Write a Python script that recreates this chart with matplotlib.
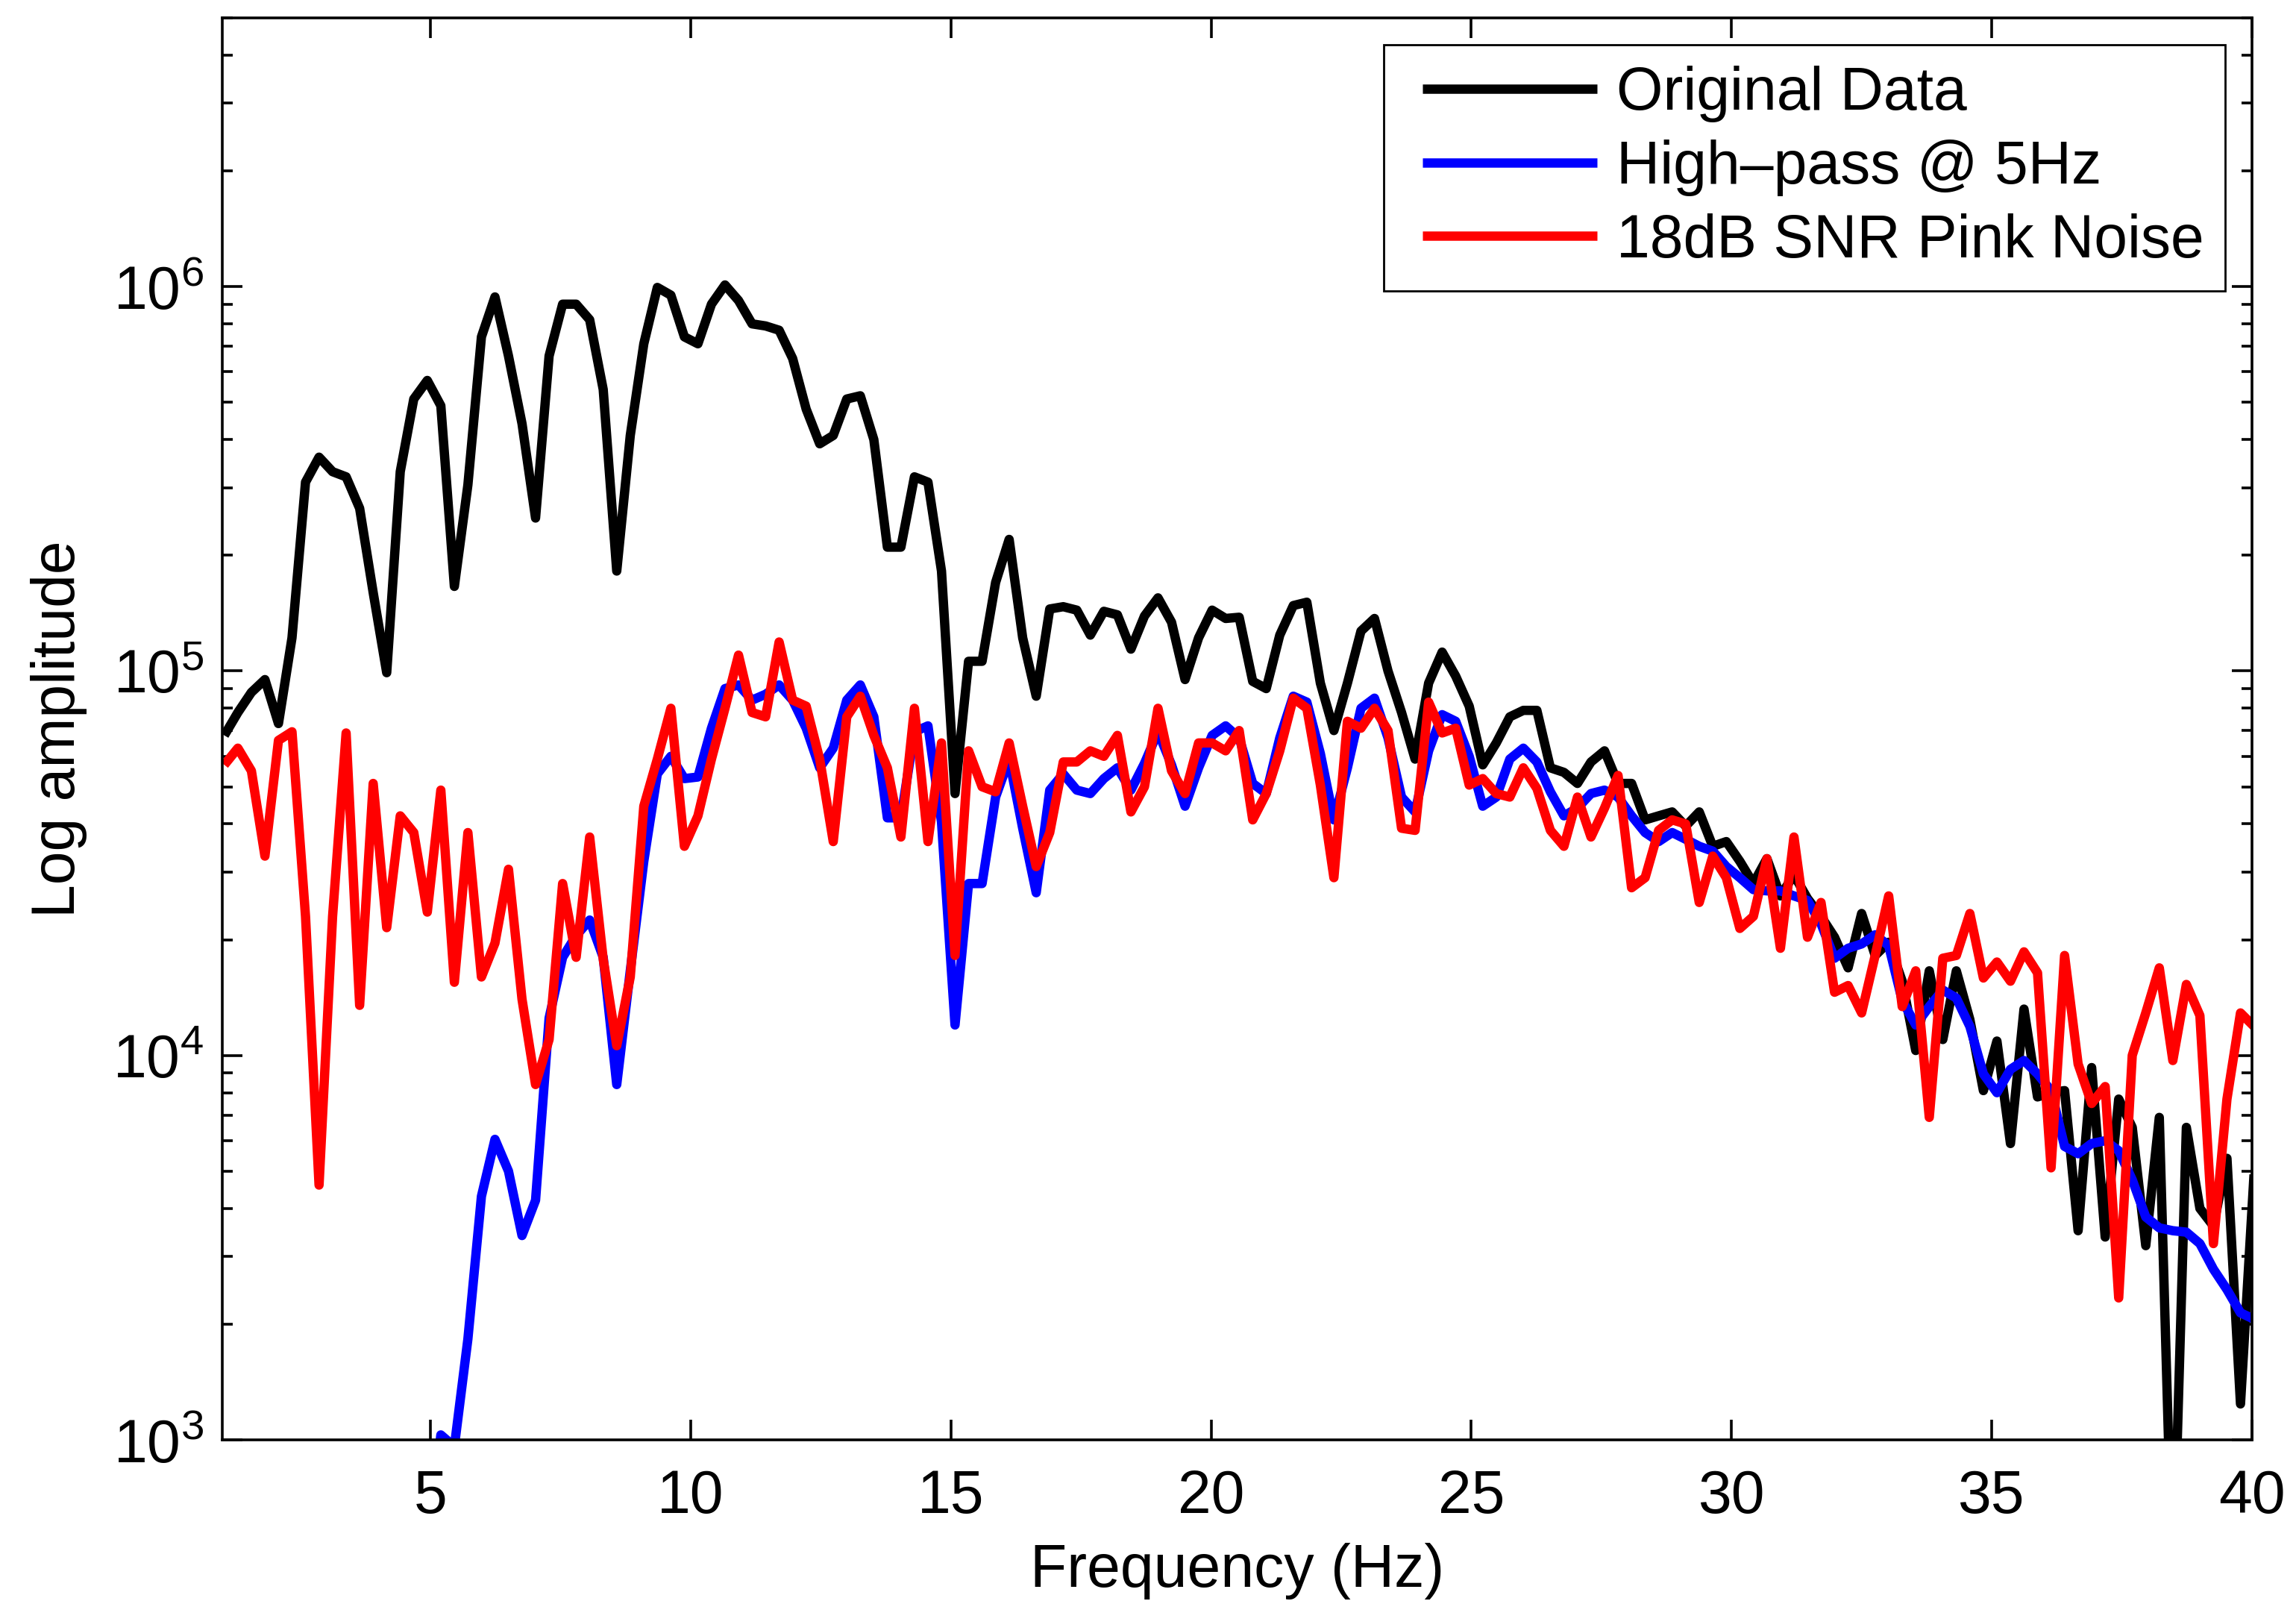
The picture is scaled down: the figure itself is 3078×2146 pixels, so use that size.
import numpy as np
import matplotlib
matplotlib.use("Agg")
import matplotlib.pyplot as plt
from matplotlib.ticker import LogLocator, NullFormatter, FixedLocator
from matplotlib.legend_handler import HandlerLine2D

plt.rcParams['font.family'] = ['Liberation Sans', 'DejaVu Sans']
plt.rcParams['mathtext.fontset'] = 'custom'
plt.rcParams['mathtext.rm'] = 'Liberation Sans'
plt.rcParams['mathtext.it'] = 'Liberation Sans:italic'
plt.rcParams['mathtext.bf'] = 'Liberation Sans:bold'

# Spectrum bins (Hz): bins 4..154 of a 0.26 Hz resolution FFT
FREQ_STEP = 0.26
freq = FREQ_STEP * np.arange(4, 155)

original = [
    6.8e4, 7.8e4, 8.8e4, 9.5e4, 7.3e4, 1.22e5, 3.1e5, 3.6e5, 3.3e5, 3.2e5,
    2.65e5, 1.6e5, 9.9e4, 3.3e5, 5.1e5, 5.7e5, 4.9e5, 1.66e5, 3.05e5, 7.4e5,
    9.4e5, 6.6e5, 4.4e5, 2.5e5, 6.6e5, 9.0e5, 9.0e5, 8.2e5, 5.4e5, 1.82e5,
    4.1e5, 7.1e5, 9.95e5, 9.5e5, 7.4e5, 7.1e5, 9.0e5, 1.01e6, 9.2e5, 8.0e5,
    7.9e5, 7.7e5, 6.5e5, 4.8e5, 3.9e5, 4.1e5, 5.1e5, 5.2e5, 4.0e5, 2.1e5,
    2.1e5, 3.2e5, 3.1e5, 1.82e5, 4.8e4, 1.06e5, 1.06e5, 1.7e5, 2.2e5, 1.22e5,
    8.6e4, 1.45e5, 1.47e5, 1.44e5, 1.24e5, 1.43e5, 1.4e5, 1.14e5, 1.39e5, 1.55e5,
    1.34e5, 9.5e4, 1.22e5, 1.44e5, 1.37e5, 1.38e5, 9.4e4, 9.0e4, 1.24e5, 1.48e5,
    1.51e5, 9.3e4, 7.0e4, 9.3e4, 1.27e5, 1.37e5, 1.0e5, 7.8e4, 5.9e4, 9.3e4,
    1.12e5, 9.7e4, 8.1e4, 5.7e4, 6.5e4, 7.6e4, 7.9e4, 7.9e4, 5.6e4, 5.45e4,
    5.1e4, 5.8e4, 6.2e4, 5.1e4, 5.1e4, 4.1e4, 4.2e4, 4.3e4, 3.95e4, 4.3e4,
    3.5e4, 3.6e4, 3.2e4, 2.8e4, 3.25e4, 2.6e4, 2.95e4, 2.56e4, 2.3e4, 2.03e4,
    1.69e4, 2.34e4, 1.82e4, 1.97e4, 1.56e4, 1.03e4, 1.66e4, 1.1e4, 1.66e4, 1.24e4,
    8.1e3, 1.09e4, 5.9e3, 1.32e4, 7.8e3, 8.0e3, 8.1e3, 3.5e3, 9.3e3, 3.37e3,
    7.7e3, 6.5e3, 3.2e3, 6.9e3, 4.0e2, 6.5e3, 4.0e3, 3.6e3, 5.4e3, 1.24e3,
    4.9e3,
]

highpass = [
    np.nan, np.nan, np.nan, np.nan, np.nan, np.nan, np.nan, np.nan, np.nan, np.nan,
    np.nan, np.nan, np.nan, np.nan, np.nan, 5.0e2, 1.03e3, 9.6e2, 1.83e3, 4.3e3,
    6.05e3, 5.0e3, 3.4e3, 4.2e3, 1.25e4, 1.8e4, 2.05e4, 2.25e4, 1.8e4, 8.4e3,
    1.66e4, 3.2e4, 5.4e4, 6.0e4, 5.25e4, 5.3e4, 7.1e4, 9.0e4, 9.2e4, 8.4e4,
    8.7e4, 9.2e4, 8.4e4, 7.1e4, 5.6e4, 6.3e4, 8.4e4, 9.2e4, 7.6e4, 4.15e4,
    4.15e4, 6.95e4, 7.2e4, 4.05e4, 1.2e4, 2.8e4, 2.8e4, 4.7e4, 5.9e4, 3.9e4,
    2.65e4, 4.9e4, 5.4e4, 4.9e4, 4.8e4, 5.25e4, 5.6e4, 4.9e4, 5.75e4, 6.95e4,
    5.7e4, 4.45e4, 5.6e4, 6.8e4, 7.2e4, 6.7e4, 5.1e4, 4.8e4, 6.7e4, 8.6e4,
    8.3e4, 6.1e4, 4.1e4, 5.6e4, 8.0e4, 8.5e4, 6.7e4, 4.7e4, 4.3e4, 6.2e4,
    7.7e4, 7.4e4, 6.0e4, 4.45e4, 4.7e4, 5.9e4, 6.3e4, 5.8e4, 4.85e4, 4.2e4,
    4.4e4, 4.8e4, 4.9e4, 4.7e4, 4.2e4, 3.8e4, 3.6e4, 3.8e4, 3.65e4, 3.5e4,
    3.4e4, 3.1e4, 2.9e4, 2.7e4, 2.68e4, 2.68e4, 2.6e4, 2.53e4, 2.2e4, 1.79e4,
    1.9e4, 1.95e4, 2.06e4, 1.93e4, 1.39e4, 1.2e4, 1.34e4, 1.48e4, 1.41e4, 1.19e4,
    8.95e3, 8.0e3, 9.2e3, 9.7e3, 8.95e3, 8.1e3, 5.8e3, 5.55e3, 5.9e3, 6.0e3,
    5.65e3, 4.75e3, 3.8e3, 3.56e3, 3.5e3, 3.47e3, 3.24e3, 2.78e3, 2.46e3, 2.14e3,
    2.06e3,
]

pink_noise = [
    5.7e4, 6.3e4, 5.5e4, 3.3e4, 6.6e4, 6.95e4, 2.3e4, 4.6e3, 2.3e4, 6.9e4,
    1.35e4, 5.1e4, 2.15e4, 4.2e4, 3.8e4, 2.36e4, 4.9e4, 1.55e4, 3.8e4, 1.6e4,
    1.96e4, 3.05e4, 1.4e4, 8.4e3, 1.1e4, 2.8e4, 1.8e4, 3.7e4, 1.78e4, 1.06e4,
    1.6e4, 4.45e4, 5.9e4, 8.0e4, 3.5e4, 4.2e4, 5.9e4, 8.0e4, 1.1e5, 7.8e4,
    7.6e4, 1.19e5, 8.4e4, 8.1e4, 5.9e4, 3.6e4, 7.6e4, 8.6e4, 6.8e4, 5.6e4,
    3.7e4, 8.0e4, 3.6e4, 6.5e4, 1.82e4, 6.2e4, 5.0e4, 4.85e4, 6.5e4, 4.45e4,
    3.1e4, 3.8e4, 5.8e4, 5.8e4, 6.2e4, 6.0e4, 6.8e4, 4.3e4, 5.0e4, 8.0e4,
    5.5e4, 4.8e4, 6.5e4, 6.5e4, 6.2e4, 7.0e4, 4.1e4, 4.8e4, 6.2e4, 8.5e4,
    8.0e4, 5.05e4, 2.9e4, 7.4e4, 7.1e4, 8.0e4, 7.0e4, 3.9e4, 3.85e4, 8.3e4,
    6.9e4, 7.1e4, 5.05e4, 5.25e4, 4.8e4, 4.7e4, 5.6e4, 4.95e4, 3.85e4, 3.5e4,
    4.7e4, 3.7e4, 4.4e4, 5.35e4, 2.73e4, 2.9e4, 3.85e4, 4.1e4, 4.0e4, 2.5e4,
    3.3e4, 2.9e4, 2.14e4, 2.3e4, 3.25e4, 1.9e4, 3.7e4, 2.03e4, 2.5e4, 1.46e4,
    1.52e4, 1.29e4, 1.82e4, 2.6e4, 1.34e4, 1.66e4, 6.9e3, 1.79e4, 1.82e4, 2.34e4,
    1.59e4, 1.75e4, 1.56e4, 1.86e4, 1.64e4, 5.1e3, 1.82e4, 9.5e3, 7.5e3, 8.3e3,
    2.34e3, 1.0e4, 1.29e4, 1.69e4, 9.7e3, 1.53e4, 1.27e4, 3.24e3, 7.7e3, 1.29e4,
    1.19e4,
]

series_labels = ['Original Data', 'High\u2013pass @ 5Hz', '18dB SNR Pink Noise']
series_colors = ['#000000', '#0000FF', '#FF0000']
x_ticks = [5, 10, 15, 20, 25, 30, 35, 40]

FS = 29


class InsetLineHandler(HandlerLine2D):
    """Legend line that starts a little inside its handle box."""

    def __init__(self, inset=0.3, **kw):
        super().__init__(**kw)
        self._inset = inset

    def get_xdata(self, legend, xdescent, ydescent, width, height, fontsize):
        x = np.array([-xdescent + self._inset * fontsize, -xdescent + width])
        return x, x


fig = plt.figure(figsize=(3078 / 200, 2146 / 200), dpi=200)
ax = fig.add_axes([0.0968, 0.10065, 0.88401, 0.88817])

lines = []
for values, label, color in zip([original, highpass, pink_noise], series_labels, series_colors):
    ln, = ax.plot(freq, values, color=color, lw=4.5, label=label,
                  solid_joinstyle='round', solid_capstyle='butt')
    lines.append(ln)

ax.set_yscale('log')
ax.set_xlim(1, 40)
ax.set_ylim(1e3, 5e6)
ax.xaxis.set_major_locator(FixedLocator(x_ticks))
ax.yaxis.set_major_locator(LogLocator(base=10, numticks=20))
ax.yaxis.set_minor_locator(LogLocator(base=10, subs=np.arange(2, 10), numticks=20))
ax.yaxis.set_minor_formatter(NullFormatter())

ax.tick_params(which='both', direction='in', top=True, right=True,
               width=1.3, labelsize=FS, color='k')
ax.tick_params(which='major', length=9.7)
ax.tick_params(which='minor', length=5)
ax.tick_params(axis='x', pad=14)
ax.tick_params(axis='y', pad=9)
for s in ax.spines.values():
    s.set_linewidth(1.3)

ax.set_xlabel('Frequency (Hz)', fontsize=FS)
ax.set_ylabel('Log amplitude', fontsize=FS)
ax.xaxis.set_label_coords(0.5, -0.0923)
ax.xaxis.label.set_va('center')
ax.yaxis.set_label_coords(-0.0803, 0.5)
ax.yaxis.label.set_va('center')

leg = ax.legend(handles=lines, loc='upper right', fontsize=FS, frameon=True,
                fancybox=False, edgecolor='k', framealpha=1, borderpad=0.35,
                labelspacing=0.28, handlelength=3.2, handletextpad=0.32,
                borderaxespad=0.45,
                handler_map={ln: InsetLineHandler(inset=0.3) for ln in lines})
leg.get_frame().set_linewidth(1.0)

fig.savefig('out.png', dpi=200)
